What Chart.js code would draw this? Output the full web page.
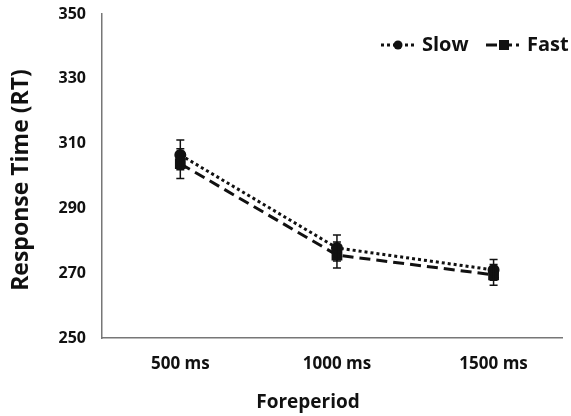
<!DOCTYPE html>
<html><head><meta charset="utf-8">
<script src="https://cdn.jsdelivr.net/npm/chart.js@4"></script>
<style>html,body{margin:0;padding:0;background:#fff}#w{width:571px;height:416px}</style>
</head><body><div id="w"><canvas id="c" width="571" height="416"></canvas></div>
<script>
const categories = ["500 ms", "1000 ms", "1500 ms"];
const slowRT = [306.5, 277.8, 271.0];
const fastRT = [303.8, 275.6, 269.5];
const slowErr = [4.6, 4.0, 3.2];
const fastErr = [4.6, 4.0, 3.2];
const yTicks = [250, 270, 290, 310, 330, 350];
const seriesNames = ["Slow", "Fast"];
const FONT = "'Open Sans', sans-serif";

const errorBars = {
  id: 'errorBars',
  afterDatasetsDraw(chart) {
    const ctx = chart.ctx, y = chart.scales.y;
    chart.data.datasets.forEach((ds, i) => {
      const meta = chart.getDatasetMeta(i);
      meta.data.forEach((pt, j) => {
        const e = ds.errors[j], v = ds.data[j].y;
        const yt = y.getPixelForValue(v + e), yb = y.getPixelForValue(v - e);
        ctx.save();
        ctx.strokeStyle = '#111'; ctx.lineWidth = 1.5;
        ctx.beginPath();
        ctx.moveTo(pt.x, yt); ctx.lineTo(pt.x, yb);
        ctx.moveTo(pt.x - 4, yt); ctx.lineTo(pt.x + 4, yt);
        ctx.moveTo(pt.x - 4, yb); ctx.lineTo(pt.x + 4, yb);
        ctx.stroke();
        ctx.restore();
      });
    });
  }
};

const customText = {
  id: 'customText',
  afterDraw(chart) {
    const ctx = chart.ctx;
    ctx.save();
    ctx.fillStyle = '#111';
    ctx.font = "bold 19px " + FONT;
    ctx.textAlign = 'center'; ctx.textBaseline = 'middle';
    ctx.fillText('Foreperiod', 308, 403);
    ctx.font = "bold 23px " + FONT;
    ctx.translate(21, 180);
    ctx.rotate(-Math.PI / 2);
    ctx.fillText('Response Time (RT)', 0, 0);
    ctx.restore();
    // legend
    ctx.save();
    const ly = 45;
    const items = [
      {x: 381, dash: [3, 3], name: seriesNames[0], shape: 'circle'},
      {x: 486, dash: [11, 4], name: seriesNames[1], shape: 'rect'}
    ];
    items.forEach(it => {
      ctx.strokeStyle = '#111'; ctx.lineWidth = 3; ctx.setLineDash(it.dash);
      ctx.beginPath(); ctx.moveTo(it.x, ly); ctx.lineTo(it.x + 33, ly); ctx.stroke();
      ctx.setLineDash([]);
      ctx.fillStyle = '#111';
      if (it.shape === 'circle') { ctx.beginPath(); ctx.arc(it.x + 17, ly, 4.5, 0, Math.PI * 2); ctx.fill(); }
      else ctx.fillRect(it.x + 13, ly - 5, 10, 10);
      ctx.font = "bold 20px " + FONT;
      ctx.textAlign = 'left'; ctx.textBaseline = 'middle';
      ctx.fillText(it.name, it.x + 41, ly);
    });
    ctx.restore();
  }
};

new Chart(document.getElementById('c'), {
  type: 'line',
  data: {
    datasets: [
      {label: seriesNames[0], data: slowRT.map((v, i) => ({x: i, y: v})), errors: slowErr,
       borderColor: '#111', backgroundColor: '#111',
       borderWidth: 3, borderDash: [3, 3], pointStyle: 'circle', pointRadius: 4.5, fill: false, tension: 0},
      {label: seriesNames[1], data: fastRT.map((v, i) => ({x: i, y: v})), errors: fastErr,
       borderColor: '#111', backgroundColor: '#111',
       borderWidth: 3, borderDash: [11, 6], pointStyle: 'rect', pointRadius: 5.5, fill: false, tension: 0}
    ]
  },
  options: {
    responsive: false, animation: false,
    layout: {padding: {top: 14, right: 0, left: 0, bottom: 0}},
    plugins: {legend: {display: false}, tooltip: {enabled: false}},
    scales: {
      x: {
        type: 'linear', min: -0.5, max: 2.44,
        afterBuildTicks(s) { s.ticks = categories.map((c, i) => ({value: i})); },
        grid: {display: false, drawTicks: false},
        border: {color: '#777', width: 1.5},
        ticks: {color: '#111', font: {family: FONT, size: 17, weight: 'bold'}, padding: 16,
                callback: v => categories[v]},
        afterFit(s) { s.height = 78; s.paddingLeft = 0; s.paddingRight = 0; }
      },
      y: {
        min: 250, max: 350,
        afterBuildTicks(s) { s.ticks = yTicks.map(v => ({value: v})); },
        grid: {display: false, drawTicks: false},
        border: {color: '#777', width: 1.5},
        ticks: {color: '#111', font: {family: FONT, size: 16, weight: 'bold'}, padding: 16},
        afterFit(s) { s.width = 102; s.paddingTop = 0; s.paddingBottom = 0; }
      }
    }
  },
  plugins: [errorBars, customText]
});
</script></body></html>
